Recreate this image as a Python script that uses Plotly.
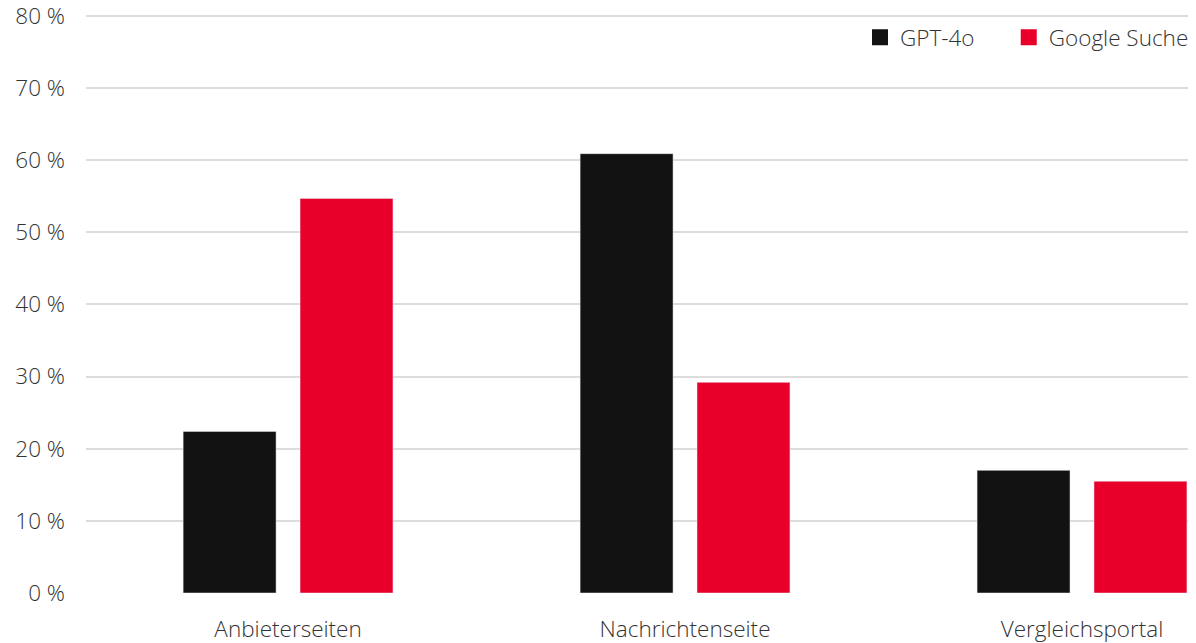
import plotly.graph_objects as go

categories = ["Anbieterseiten", "Nachrichtenseite", "Vergleichsportal"]
gpt4o = [22.4, 60.9, 17.0]
google = [54.7, 29.2, 15.5]
y_ticks = [0, 10, 20, 30, 40, 50, 60, 70, 80]
y_tick_labels = [f"{v} %" for v in y_ticks]

BLACK = "#121212"
RED = "#e8002a"
FONT = "Open Sans"
TXT = "#333333"
FS = 22.5
NBSP = "\u00a0"

fig = go.Figure()
fig.add_trace(go.Bar(x=categories, y=gpt4o, name="GPT-4o", marker_color=BLACK,
                     showlegend=False))
fig.add_trace(go.Bar(x=categories, y=google, name="Google Suche", marker_color=RED,
                     showlegend=False))
# legend entries
fig.add_trace(go.Scatter(x=[None], y=[None], mode="markers", name="GPT-4o" + NBSP * 5,
                         marker=dict(symbol="square", size=20, color=BLACK)))
fig.add_trace(go.Scatter(x=[None], y=[None], mode="markers", name="Google Suche",
                         marker=dict(symbol="square", size=20, color=RED)))

fig.update_layout(
    width=1196, height=643,
    margin=dict(l=86, r=2, t=13, b=50),
    plot_bgcolor="white", paper_bgcolor="white",
    font=dict(family=FONT, size=FS, color=TXT, weight=300),
    barmode="group", bargap=0.411, bargroupgap=0.205,
    legend=dict(orientation="h", x=1.0, xanchor="right",
                y=0.9945, yanchor="top",
                font=dict(size=FS, color=TXT, weight=300), itemwidth=30,
                bgcolor="rgba(0,0,0,0)"),
    xaxis=dict(type="category", range=[-0.509, 2.267], domain=[0, 0.99458],
               showgrid=False, showline=False, ticks="", tickfont=dict(size=FS),
               ticklabelstandoff=20, automargin=False),
    yaxis=dict(range=[0, 80.4], tickvals=y_ticks, ticktext=y_tick_labels,
               showgrid=True, gridcolor="#dddddd", gridwidth=1.5,
               zeroline=False, ticks="", ticklabelstandoff=20,
               ticklabeloverflow="allow",
               tickfont=dict(size=FS), automargin=False),
)

fig.write_html("out.html")
